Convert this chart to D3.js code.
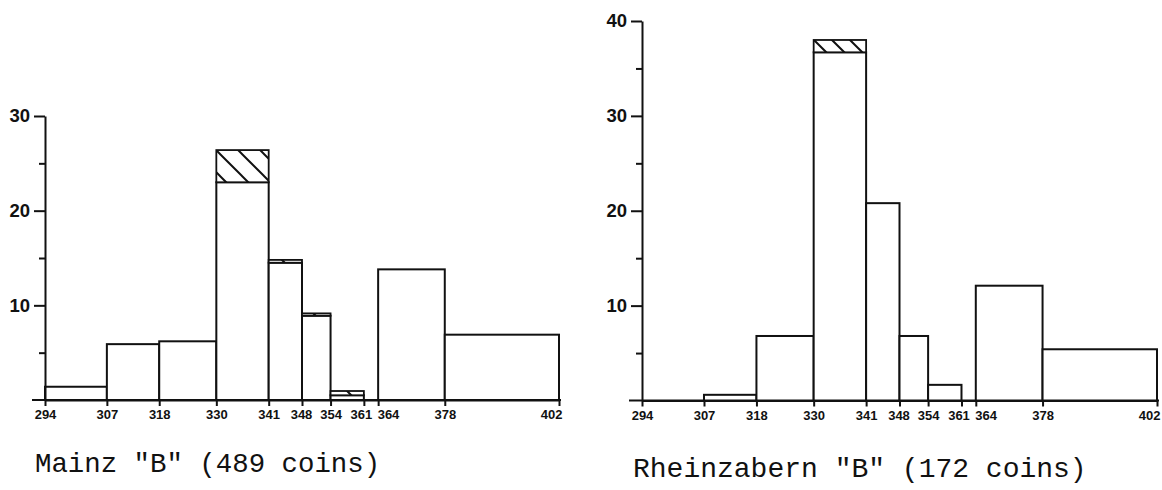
<!DOCTYPE html>
<html>
<head>
<meta charset="utf-8">
<script src="https://cdn.jsdelivr.net/npm/d3@7/dist/d3.min.js"></script>
<style>
  html, body { margin: 0; padding: 0; background: #fff; }
  svg { display: block; }
  .tick text { font-family: "Liberation Sans", Arial, Helvetica, sans-serif; font-weight: bold; fill: #111; }
  .title { font-family: "Courier New", Courier, "Liberation Mono", monospace; fill: #111; }
</style>
</head>
<body>
<svg id="chart" width="1162" height="490"></svg>
<script>
// Bin edges (shared by both histograms)
const edges = [294, 307, 318, 330, 341, 348, 354, 361, 364, 378, 402];
const edgeLabels = ["294", "307", "318", "330", "341", "348", "354", "361", "364", "378", "402"];

// Mainz "B" (489 coins): plain part and hatched part of each bin
const mainzBase  = [1.4, 5.9, 6.2, 23.0, 14.5, 8.9, 0.5, 0, 13.8, 6.9];
const mainzHatch = [0, 0, 0, 3.4, 0.3, 0.25, 0.45, 0, 0, 0];

// Rheinzabern "B" (172 coins)
const rheinBase  = [0, 0.6, 6.8, 36.7, 20.8, 6.8, 1.65, 0, 12.1, 5.4];
const rheinHatch = [0, 0, 0, 1.3, 0, 0, 0, 0, 0, 0];

const mainzMajor = [10, 20, 30];
const mainzMinor = [5, 15, 25];
const rheinMajor = [10, 20, 30, 40];
const rheinMinor = [5, 15, 25, 35];

const titles = ['Mainz "B" (489 coins)', 'Rheinzabern "B" (172 coins)'];

const svg = d3.select("#chart");
const ink = "#111";

// hatch pattern "\"
const defs = svg.append("defs");
function addPattern(id, s) {
  const p = defs.append("pattern")
    .attr("id", id).attr("patternUnits", "userSpaceOnUse")
    .attr("width", s).attr("height", s);
  p.append("rect").attr("width", s).attr("height", s).attr("fill", "#fff");
  p.append("path")
    .attr("d", `M${-s/2},${s/2} L${s/2},${3*s/2} M0,0 L${s},${s} M${s/2},${-s/2} L${3*s/2},${s/2}`)
    .attr("stroke", ink).attr("stroke-width", 2);
}
addPattern("hatchA", 22);
addPattern("hatchB", 18);

// label placement tweaks where neighbouring labels crowd
const labelAnchor = { "364": "start", "402": "end" };
const labelDx = { "361": -3, "364": -1, "402": 3, "348": -1 };

function histogram(cfg) {
  const x = d3.scaleLinear().domain([edges[0], edges[edges.length - 1]]).range(cfg.xr);
  const y = d3.scaleLinear().domain(cfg.yd).range(cfg.yr);
  const g = svg.append("g");

  // baseline extension
  g.append("line")
    .attr("x1", x.range()[0] - 13).attr("x2", x.range()[1] + 2)
    .attr("y1", y(0)).attr("y2", y(0))
    .attr("stroke", ink).attr("stroke-width", 2);

  const bins = cfg.base.map((v, i) => ({ x0: edges[i], x1: edges[i + 1], b: v, h: cfg.hatch[i] }));

  g.selectAll("rect.base").data(bins.filter(d => d.b > 0)).join("rect")
    .attr("class", "base")
    .attr("x", d => x(d.x0)).attr("width", d => x(d.x1) - x(d.x0))
    .attr("y", d => y(d.b)).attr("height", d => y(0) - y(d.b))
    .attr("fill", "#fff").attr("stroke", ink).attr("stroke-width", 2);

  g.selectAll("rect.hatch").data(bins.filter(d => d.h > 0)).join("rect")
    .attr("class", "hatch")
    .attr("x", d => x(d.x0)).attr("width", d => x(d.x1) - x(d.x0))
    .attr("y", d => y(d.b + d.h)).attr("height", d => y(d.b) - y(d.b + d.h))
    .attr("fill", `url(#${cfg.pattern})`).attr("stroke", ink).attr("stroke-width", 1.8);

  // x axis
  const xa = g.append("g").attr("transform", `translate(0,${y(0)})`)
    .call(d3.axisBottom(x).tickValues(edges).tickFormat((d, i) => edgeLabels[i]).tickSize(6).tickSizeOuter(0).tickPadding(4));
  xa.attr("font-size", null);
  xa.select(".domain").attr("stroke", ink).attr("stroke-width", 2);
  xa.selectAll(".tick line").attr("stroke", ink).attr("stroke-width", 2);
  xa.selectAll(".tick text")
    .style("font-size", "13px")
    .attr("text-anchor", function () { return labelAnchor[this.textContent] || "middle"; })
    .attr("dx", function () { return labelDx[this.textContent] || 0; });

  // y axis major
  const ya = g.append("g").attr("transform", `translate(${x.range()[0]},0)`)
    .call(d3.axisLeft(y).tickValues(cfg.major).tickSize(11).tickSizeOuter(0).tickPadding(4));
  ya.select(".domain").attr("stroke", ink).attr("stroke-width", 2);
  ya.selectAll(".tick line").attr("stroke", ink).attr("stroke-width", 2);
  ya.selectAll(".tick text").style("font-size", "18.5px");

  // y axis minor
  const ym = g.append("g").attr("transform", `translate(${x.range()[0]},0)`)
    .call(d3.axisLeft(y).tickValues(cfg.minor).tickSize(6).tickSizeOuter(0).tickFormat(""));
  ym.select(".domain").remove();
  ym.selectAll(".tick line").attr("stroke", ink).attr("stroke-width", 2);

  svg.append("text").attr("class", "title")
    .attr("x", cfg.tx).attr("y", cfg.ty)
    .attr("font-size", cfg.tfs)
    .text(cfg.title);
}

histogram({
  xr: [45, 559], yd: [0, 30], yr: [400, 116],
  base: mainzBase, hatch: mainzHatch, major: mainzMajor, minor: mainzMinor,
  pattern: "hatchA", title: titles[0], tx: 35, ty: 472, tfs: 27.4
});
histogram({
  xr: [642, 1157], yd: [0, 40], yr: [400.5, 21],
  base: rheinBase, hatch: rheinHatch, major: rheinMajor, minor: rheinMinor,
  pattern: "hatchB", title: titles[1], tx: 633, ty: 477, tfs: 28
});
</script>
</body>
</html>
